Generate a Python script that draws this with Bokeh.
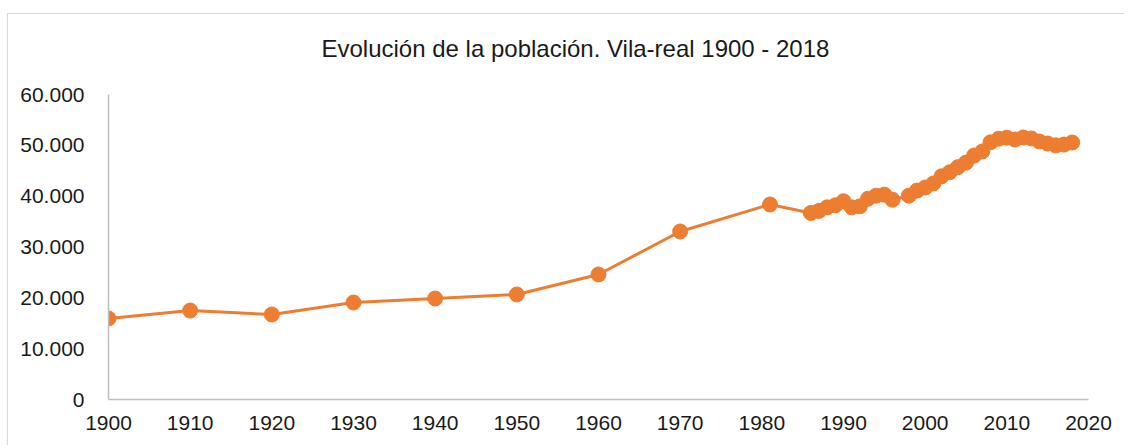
from bokeh.plotting import figure
from bokeh.models import Range1d, FixedTicker, CustomJSTickFormatter, Title
from bokeh.embed import file_html
from bokeh.resources import INLINE

years = [1900, 1910, 1920, 1930, 1940, 1950, 1960, 1970, 1981,
         1986, 1987, 1988, 1989, 1990, 1991, 1992, 1993, 1994, 1995, 1996,
         1998, 1999, 2000, 2001, 2002, 2003, 2004, 2005, 2006, 2007, 2008,
         2009, 2010, 2011, 2012, 2013, 2014, 2015, 2016, 2017, 2018]
population = [15940, 17500, 16720, 19080, 19870, 20660, 24590, 33050, 38360,
              36700, 37100, 37800, 38200, 39000, 37800, 38000, 39500, 40100, 40300, 39300,
              40100, 41100, 41700, 42500, 43900, 44700, 45700, 46600, 48000, 48800, 50600,
              51300, 51500, 51150, 51550, 51350, 50750, 50350, 50000, 50150, 50550]
x_ticks = list(range(1900, 2021, 10))
y_ticks = [0, 10000, 20000, 30000, 40000, 50000, 60000]
title_text = "Evolución de la población. Vila-real 1900 - 2018"

ORANGE = "#ED7D31"
FONT = "Liberation Sans"
TXT = "#1a1a1a"

p = figure(width=1117, height=432, output_backend="svg", toolbar_location=None,
           x_range=Range1d(1900, 2020), y_range=Range1d(0, 60000),
           min_border_left=100, min_border_right=37, min_border_top=80, min_border_bottom=47,
           styles={"margin-top": "13px", "margin-left": "7px",
                   "border-top": "1px solid #D9D9D9", "border-left": "1px solid #D9D9D9"})
# actual title (outermost panel)
p.title = Title(text=title_text, align="left", offset=213, text_font=FONT,
                text_font_size="24px", text_font_style="normal", text_color=TXT,
                standoff=37)
# spacer between the title and the frame
p.add_layout(Title(text=" ", text_font_size="2px", standoff=10), "above")

p.line(years, population, line_color=ORANGE, line_width=3)
p.scatter(years, population, size=15, fill_color=ORANGE, line_color=ORANGE)

p.xgrid.visible = False
p.ygrid.visible = False
p.outline_line_color = None

for ax in (p.xaxis[0], p.yaxis[0]):
    ax.axis_line_color = "#BFBFBF"
    ax.axis_line_width = 1.5
    ax.major_tick_line_color = None
    ax.minor_tick_line_color = None
    ax.major_label_text_font = FONT
    ax.major_label_text_font_size = "21px"
    ax.major_label_text_color = TXT

p.xaxis[0].ticker = FixedTicker(ticks=x_ticks)
p.yaxis[0].ticker = FixedTicker(ticks=y_ticks)
p.xaxis[0].major_label_standoff = 10
p.yaxis[0].major_label_standoff = 18
p.yaxis[0].formatter = CustomJSTickFormatter(code="""
return Math.round(tick).toFixed(0).replace(/\\B(?=(\\d{3})+(?!\\d))/g, '.');
""")

open("out.html", "w").write(file_html(p, INLINE))
